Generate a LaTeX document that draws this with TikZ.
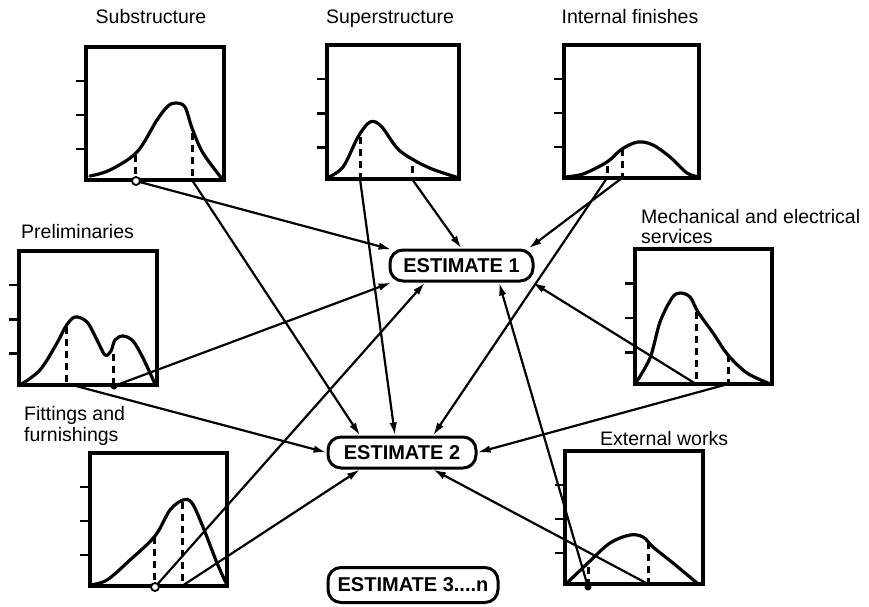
\documentclass[tikz,border=0pt]{standalone}
\usepackage{fontspec}
\setmainfont{Liberation Sans}
\usetikzlibrary{arrows.meta,calc}

% three tick marks on the left edge of a chart frame
\newcommand\charticks[1]{%
  \foreach \f in {0.26,0.51,0.76}
    \draw[tick] ($(#1.north west)!\f!(#1.south west)$) -- ++(-8,0);}

\begin{document}
\begin{tikzpicture}[x=1pt,y=-1pt,
  chart/.style={draw, line width=3.2pt, rectangle, inner sep=0pt},
  curve/.style={line width=3.2pt, line join=round, line cap=round},
  guide/.style={line width=3pt, dash pattern=on 7pt off 5pt},
  tick/.style={line width=2.6pt},
  est/.style={draw, line width=3pt, rounded corners=13pt,
    font=\fontsize{20}{24}\selectfont\bfseries, inner sep=0pt,
    minimum height=31pt},
  title/.style={font=\fontsize{19.5}{22}\selectfont, inner sep=0pt},
  link/.style={line width=2.2pt, -{Latex[length=13pt,width=7.5pt]}},
  knot/.style={circle, draw, fill=white, line width=1.8pt, inner sep=0pt,
    minimum size=8pt},
  dot/.style={circle, fill, inner sep=0pt, minimum size=7pt}
]
\useasboundingbox (0,0) rectangle (869,606);

% ---------- titles ----------
\node[title, anchor=base] (tsub) at (151,23) {Substructure};
\node[title, anchor=base] (tsup) at (390,23) {Superstructure};
\node[title, anchor=base] (tfin) at (630,23) {Internal finishes};
\node[title, anchor=base west] (tpre) at (21,238) {Preliminaries};
\node[title, anchor=base west] (tmep1) at (641,223) {Mechanical and electrical};
\node[title, anchor=base west] (tmep2) at (641,243) {services};
\node[title, anchor=base west] (tfit1) at (24,420) {Fittings and};
\node[title, anchor=base west] (tfit2) at (24,441) {furnishings};
\node[title, anchor=base west] (text) at (600,445) {External works};

% ---------- chart frames ----------
\node[chart, minimum width=138pt, minimum height=133pt] (sub) at (155,113.5) {};
\node[chart, minimum width=132pt, minimum height=134pt] (sup) at (393,112) {};
\node[chart, minimum width=135pt, minimum height=133pt] (fin) at (631.5,111.5) {};
\node[chart, minimum width=138pt, minimum height=134pt] (pre) at (88,318) {};
\node[chart, minimum width=137pt, minimum height=135pt] (mep) at (703.5,316.5) {};
\node[chart, minimum width=137pt, minimum height=133pt] (fit) at (158.5,519.5) {};
\node[chart, minimum width=138pt, minimum height=133pt] (ext) at (634,517.5) {};
\foreach \c in {sub,sup,fin,pre,mep,fit,ext} {\charticks{\c}}

% ---------- distribution curves ----------
\draw[curve] plot[smooth, tension=0.55] coordinates
  {(90,176) (110,170) (137,152) (157,120) (168,106) (176,103) (185,107) (192,128) (203,153) (223,180)};
\draw[curve] plot[smooth, tension=0.55] coordinates
  {(327,178) (343,167) (358,137) (370,122) (381,126) (397,148) (412,159) (432,169) (459,178)};
\draw[curve] plot[smooth, tension=0.55] coordinates
  {(565,177) (583,174) (607,162) (622,149) (638,142) (653,145) (670,157) (687,173) (699,177)};
\draw[curve] plot[smooth, tension=0.55] coordinates
  {(20,385) (40,370) (57,343) (66,326) (75,317) (87,322) (97,340) (105,355) (111,351) (115,340) (123,336) (133,341) (143,358) (155,384)};
\draw[curve] plot[smooth, tension=0.55] coordinates
  {(635,384) (650,358) (660,322) (672,298) (680,293) (690,297) (698,312) (713,333) (728,355) (747,373) (768,383)};
\draw[curve] plot[smooth, tension=0.55] coordinates
  {(90,585) (107,580) (130,560) (155,536) (170,510) (183,500) (192,503) (203,527) (217,563) (227,585)};
\draw[curve] plot[smooth, tension=0.55] coordinates
  {(567,583) (590,561) (610,543) (630,535) (643,537) (653,547) (673,563) (697,583)};

% ---------- estimate range markers ----------
\coordinate (s1) at (136,181);
\coordinate (s2) at (192,180);
\coordinate (s3) at (360,179);
\coordinate (s4) at (412,179);
\coordinate (s5) at (607,178);
\coordinate (s6) at (622,178);
\coordinate (s7) at (114,386);
\coordinate (s8) at (76,386);
\coordinate (s9) at (696,384);
\coordinate (s10) at (728,384);
\coordinate (s11) at (155,587);
\coordinate (s12) at (182,586);
\coordinate (s13) at (588,587);
\coordinate (s14) at (648,584);

\draw[guide] (135,155) -- (135,180);
\draw[guide] (192,133) -- (192,180);
\draw[guide] (360,137) -- (360,179);
\draw[guide] (412,166) -- (412,179);
\draw[guide] (607,166) -- (607,178);
\draw[guide] (622,149) -- (622,178);
\draw[guide] (66,327) -- (66,385);
\draw[guide] (113,354) -- (113,385);
\draw[guide] (696,312) -- (696,384);
\draw[guide] (728,355) -- (728,384);
\draw[guide] (154,537) -- (154,586);
\draw[guide] (182,502) -- (182,586);
\draw[guide] (588,567) -- (588,584);
\draw[guide] (648,542) -- (648,584);

% ---------- estimates ----------
\node[est, minimum width=143pt] (e1) at (461.5,265.5) {ESTIMATE 1};
\node[est, minimum width=148pt] (e2) at (402,452.5) {ESTIMATE 2};
\node[est, minimum width=170pt, minimum height=35pt] (e3) at (413,585) {ESTIMATE 3....n};

% ---------- connectors ----------
\draw[link] (s1) -- ([xshift=3pt,yshift=-1pt]e1.north west);
\draw[link] (s2) -- ([xshift=-42pt]e2.north);
\draw[link] (s3) -- ([xshift=-7pt]e2.north);
\draw[link] (s4) -- (e1.north);
\draw[link] (s5) -- ([xshift=31pt]e2.north);
\draw[link] (s6) -- ([xshift=-6pt]e1.north east);
\draw[link] (s7) -- ([xshift=3pt]e1.south west);
\draw[link] (s8) -- (e2.west);
\draw[link] (s9) -- ([xshift=-2pt]e1.south east);
\draw[link] (s10) -- (e2.east);
\draw[link] (s11) -- ([xshift=-36.5pt]e1.south);
\draw[link] (s12) -- ([xshift=-42pt]e2.south);
\draw[link] (s13) -- ([xshift=37.5pt]e1.south);
\draw[link] (s14) -- ([xshift=31pt]e2.south);

\node[knot] (k1) at (s1) {};
\node[knot] (k2) at (s11) {};
\node[dot] (k3) at (s7) {};
\node[dot] (k4) at (s13) {};
\end{tikzpicture}
\end{document}
